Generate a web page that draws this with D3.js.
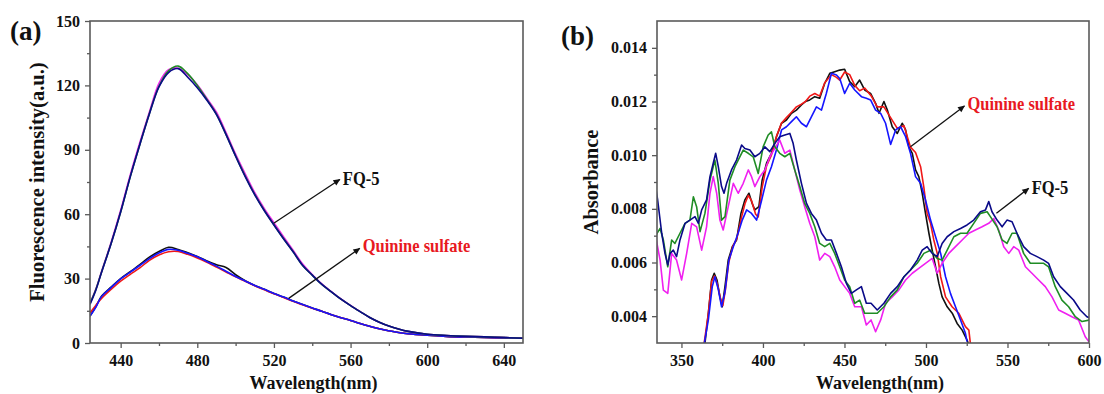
<!DOCTYPE html>
<html><head><meta charset="utf-8">
<script src="https://cdn.jsdelivr.net/npm/d3@7"></script>
<style>
body{margin:0;background:#fff;}
svg{display:block;}
text{font-family:"Liberation Serif","Times New Roman",serif;font-weight:bold;}
</style></head><body>
<svg id="chart" width="1104" height="394"></svg>
<script>
// ---------- Panel (a): fluorescence emission ----------
const aWavelength = [424,427,430,435,440,445,450,455,460,465,470,475,480,485,490,495,500,505,510,515,520,525,530,535,540,545,550,555,560,565,570,575,580,585,590,600,610,620,635,650];
const aFQ5Green   = [18.5,24.8,33,46.3,61,77.4,92.4,106.9,119.6,126.8,129,125.5,120,113.5,106.6,97.2,87.2,77.8,69.2,61.8,55.1,48.7,42.6,36.1,31.6,27.3,23.8,20.4,17.4,14.6,11.9,9.7,7.9,6.5,5.4,4.1,3.5,3.1,2.7,2.2];
const aFQ5Magenta = [18.5,25,33.2,46.8,61.8,78.3,93.4,107.6,121,127.3,128,125,120.3,114,107.5,98,88,78.8,70,62.6,56,49.5,43.2,36.8,31.9,27.5,23.9,20.5,17.5,14.6,11.9,9.7,7.9,6.5,5.4,4.1,3.5,3.1,2.7,2.2];
const aFQ5Navy    = [18,24.5,32.8,46.2,61,77.4,92.4,106.7,119.3,126,127.8,123.8,118.9,113.1,106.4,97.1,87,77.5,69,61.6,55,48.6,42.5,36.1,31.6,27.3,23.8,20.4,17.4,14.6,11.9,9.7,7.9,6.5,5.4,4.1,3.5,3.1,2.7,2.2];
const aQSBlack    = [12.5,16.8,21.8,26,30,33.2,36.5,40,42.6,44.6,43.6,42,40.3,38.2,36.4,35.2,31.8,29,26.8,25,23.1,21.4,19.6,17.9,16.3,14.8,13.2,11.8,10.5,9.1,7.8,6.6,5.7,4.9,4.3,3.6,3.1,2.8,2.5,2.2];
const aQSRed      = [14,17.5,20.8,25,28.8,32,35,38.5,41,42.5,42.6,41.3,39.6,37.6,35.4,33.1,30.8,28.8,26.7,24.8,22.9,21.2,19.4,17.8,16.2,14.8,13.2,11.8,10.5,9.1,7.8,6.6,5.7,4.9,4.3,3.6,3.1,2.8,2.5,2.2];
const aQSBlue     = [12.5,16.6,21.6,25.8,29.9,33,36.1,39.3,41.9,43.6,43.2,41.8,40.2,38,35.8,33.4,31,28.9,26.8,25,23.1,21.4,19.6,17.9,16.3,14.8,13.2,11.8,10.5,9.1,7.8,6.6,5.7,4.9,4.3,3.6,3.1,2.8,2.5,2.2];
const aXTicks = [440,480,520,560,600,640];
const aXMinor = [460,500,540,580,620];
const aYTicks = [0,30,60,90,120,150];
const aYMinor = [15,45,75,105,135];

// ---------- Panel (b): absorbance, [wavelength, absorbance] ----------
const bFQ5Green = [[333.8,0.00696],[336.9,0.00727],[338.9,0.00684],[341.6,0.00584],[344,0.00684],[346,0.00671],[349.1,0.00709],[352.2,0.00746],[355.2,0.00758],[357.3,0.00845],[359.3,0.00808],[361.4,0.00715],[364.4,0.00783],[367.5,0.00907],[370.5,0.00982],[372.6,0.00895],[374.6,0.00758],[376.7,0.00771],[379.7,0.00907],[382.8,0.00957],[385.8,0.00994],[387.9,0.01019],[391,0.01007],[394,0.00994],[397.1,0.00932],[400.1,0.01031],[403.2,0.01075],[405.2,0.01087],[407.3,0.01031],[410.3,0.01007],[413.4,0.00994],[416.5,0.01007],[419.5,0.00945],[422.6,0.00883],[425.6,0.0082],[428.7,0.00783],[431.8,0.00733],[434.8,0.00671],[437.9,0.00659],[441,0.00671],[444,0.00634],[447.1,0.00584],[450.1,0.00535],[453.2,0.0051],[456.3,0.00448],[459.3,0.0046],[462.4,0.00411],[465.5,0.00411],[470.1,0.00411],[474.2,0.00435],[478.3,0.00472],[482.4,0.00498],[486.5,0.00547],[490.5,0.00572],[494.6,0.00597],[498.7,0.00634],[502.8,0.00646],[506.9,0.00615],[509.9,0.00609],[513,0.00646],[517.1,0.00696],[521.2,0.00709],[525.2,0.00709],[529.3,0.00746],[533.4,0.00783],[537.5,0.00789],[539.5,0.00771],[543.6,0.00733],[546.7,0.00684],[549.7,0.00671],[552.8,0.00709],[555.8,0.00709],[559.9,0.00634],[564,0.00597],[568.1,0.00597],[572.2,0.00597],[575.2,0.00584],[579.3,0.0051],[583.4,0.0046],[587.5,0.00435],[591.6,0.00398],[595.7,0.0038],[600.8,0.00386]];
const bFQ5Magenta = [[333.8,0.00709],[336.9,0.00609],[338.9,0.00497],[341.6,0.00485],[344,0.00634],[347,0.00609],[350.1,0.00535],[353.2,0.00634],[356.3,0.00746],[359.3,0.00733],[362.4,0.00646],[365.4,0.00733],[367.5,0.00858],[369.5,0.0092],[371.6,0.00858],[373.6,0.00758],[375.6,0.00721],[378.7,0.00808],[381.8,0.00895],[384.8,0.00858],[387.9,0.00895],[391,0.00945],[393,0.0092],[395,0.00883],[398.1,0.0092],[401.2,0.00945],[404.2,0.00994],[407.3,0.01025],[410.3,0.01056],[413.4,0.01007],[416.5,0.01019],[419.5,0.00945],[422.6,0.0087],[425.6,0.00808],[428.7,0.00746],[431.8,0.00696],[434.8,0.00609],[437.9,0.00634],[441,0.00622],[444,0.00584],[447.1,0.00535],[450.1,0.0051],[453.2,0.00485],[456.3,0.00435],[460.4,0.00435],[463.4,0.00367],[466.3,0.00386],[469.1,0.00342],[472.2,0.00386],[475.2,0.00448],[479.3,0.00472],[483.4,0.00498],[487.5,0.00535],[491.6,0.0056],[495.6,0.00578],[499.7,0.00597],[503.8,0.00615],[506.9,0.0056],[509.9,0.00597],[514,0.00634],[518.1,0.00659],[522.2,0.00684],[526.3,0.00709],[530.3,0.00721],[534.4,0.00733],[538.5,0.00746],[541.6,0.00764],[544.6,0.00721],[547.7,0.00659],[550.8,0.00634],[553.8,0.00659],[556.9,0.00646],[561,0.00584],[565,0.0056],[569.1,0.00535],[573.2,0.0051],[577.3,0.00472],[581.4,0.00423],[585.4,0.00411],[589.5,0.00398],[593.6,0.00386],[597.7,0.00323],[600.8,0.00298]];
const bFQ5Navy = [[333.8,0.00895],[335.4,0.00833],[337.9,0.00709],[339.9,0.00634],[341.6,0.00591],[343,0.00634],[345,0.00646],[347,0.00622],[349.1,0.00684],[352.2,0.00746],[355.2,0.00758],[358.3,0.00771],[360.4,0.00746],[362.4,0.00796],[365.4,0.00833],[367.5,0.0092],[369.5,0.0097],[371,0.01007],[372.6,0.00957],[374.6,0.00883],[376.1,0.00858],[377.7,0.00895],[380.7,0.00945],[383.8,0.00982],[386.9,0.01038],[388.9,0.01025],[392,0.01019],[395,0.00994],[398.1,0.01007],[401.2,0.01031],[404.2,0.01013],[407.3,0.01044],[410.3,0.01069],[413.4,0.01075],[416.5,0.01081],[418.5,0.01044],[420.5,0.00982],[423.6,0.00895],[426.7,0.0082],[429.7,0.00783],[432.8,0.00758],[435.9,0.00709],[438.9,0.00684],[442,0.00684],[445.1,0.00634],[448.1,0.00584],[451.2,0.00522],[454.2,0.00485],[457.3,0.00498],[460.4,0.0051],[463.4,0.00448],[466.3,0.00448],[470.1,0.00423],[474.2,0.00448],[478.3,0.00485],[482.4,0.0051],[486.5,0.00547],[490.5,0.00572],[494.6,0.00609],[497.7,0.00646],[500.7,0.00659],[503.8,0.00634],[506.9,0.00622],[509.9,0.00671],[513,0.00696],[517.1,0.00715],[521.2,0.00727],[525.2,0.0074],[529.3,0.00758],[533.4,0.00789],[536.5,0.00796],[538.5,0.00827],[540.5,0.00789],[543.6,0.00758],[546.7,0.00733],[549.7,0.00758],[552.8,0.00752],[555.8,0.00709],[559.9,0.00659],[564,0.00634],[568.1,0.00622],[572.2,0.00609],[575.2,0.00597],[578.3,0.00547],[582.4,0.0051],[586.5,0.00485],[590.5,0.0046],[594.6,0.00423],[598.7,0.00398],[600.8,0.00392]];
const bQSBlack = [[364.4,0.00298],[366.5,0.00411],[368.5,0.00535],[370.1,0.0056],[371.8,0.00535],[373.6,0.00472],[375,0.00435],[376.7,0.0051],[378.7,0.00609],[381.2,0.00659],[383.8,0.00684],[386.5,0.00783],[388.9,0.00833],[391.4,0.00858],[393.4,0.0082],[395,0.00796],[397.5,0.00808],[399.5,0.00907],[402.2,0.0097],[405.2,0.01007],[408.3,0.01069],[411.4,0.01119],[414.4,0.01131],[417.5,0.01156],[420.5,0.01168],[423.6,0.01187],[426.1,0.012],[428.7,0.01206],[431.8,0.01218],[434.8,0.01212],[437.9,0.01268],[441,0.01305],[444,0.01311],[447.1,0.01317],[450.1,0.0132],[453.2,0.01274],[456.3,0.01255],[459.3,0.0128],[462.4,0.01243],[466,0.0123],[469.1,0.01193],[471.2,0.01156],[474.2,0.012],[476.3,0.01168],[479.3,0.01106],[482.4,0.01081],[485.4,0.01119],[487.5,0.01094],[489.5,0.01031],[491.6,0.01007],[493.6,0.00945],[495.6,0.0092],[497.7,0.00858],[499.7,0.00783],[501.8,0.00709],[503.8,0.00646],[505.9,0.00584],[507.9,0.00522],[509.9,0.00472],[513,0.00435],[516.1,0.00411],[519.1,0.00373],[522.2,0.00348],[525.2,0.00311],[526.3,0.00292]];
const bQSRed = [[363.9,0.00298],[366.5,0.0041],[368.5,0.0053],[370.3,0.0055],[372,0.0052],[373.8,0.0047],[375.4,0.0044],[377,0.005],[379,0.006],[381.5,0.0066],[384,0.0069],[386.9,0.0077],[389,0.0082],[391,0.0085],[393,0.0083],[395.5,0.0078],[397.1,0.0077],[399.5,0.0088],[402.2,0.0096],[405.2,0.01],[408.3,0.0107],[411.4,0.0112],[414.4,0.0114],[417.5,0.0116],[420.5,0.0118],[423.6,0.0119],[426.1,0.012],[428.7,0.0122],[431.8,0.0123],[434.8,0.0122],[437.9,0.0127],[442,0.013],[445.1,0.0129],[447.1,0.0128],[450.1,0.0131],[453.2,0.013],[456.3,0.0126],[459.3,0.0124],[462.4,0.0125],[466.5,0.0122],[470.1,0.0118],[474.2,0.0118],[478.3,0.0114],[482.4,0.011],[486.5,0.0111],[490.5,0.0103],[493.6,0.0101],[496.7,0.00957],[498.7,0.0088],[500.7,0.00783],[502.8,0.00746],[504.8,0.00684],[506.9,0.00634],[509,0.00547],[512,0.00472],[516,0.00435],[520.1,0.00411],[524.2,0.00361],[526.3,0.00348],[527.3,0.00295]];
const bQSBlue = [[364,0.00298],[366.5,0.00386],[368.9,0.0051],[370.5,0.00547],[372.6,0.005],[374.6,0.00435],[376.7,0.0049],[379.1,0.00609],[381.8,0.00659],[384.8,0.0071],[387.3,0.00758],[390,0.00796],[393,0.00783],[396.1,0.00758],[399.1,0.0083],[402.2,0.00908],[405.2,0.00957],[408.3,0.0102],[411.4,0.01094],[414.4,0.01106],[417.5,0.01125],[420.5,0.01143],[423.6,0.01119],[426.7,0.01106],[429.7,0.01143],[432.8,0.0118],[435.9,0.01168],[438.9,0.01231],[442,0.01305],[445.1,0.01299],[447.1,0.01286],[450.1,0.0123],[453.2,0.01268],[456.3,0.01243],[460.4,0.01218],[463.4,0.01212],[466,0.01206],[469.1,0.01168],[472.2,0.01156],[475.2,0.01119],[478.3,0.0104],[481.4,0.01094],[484.4,0.01106],[487.5,0.01069],[490.5,0.01007],[493.6,0.0092],[496.7,0.00895],[499.7,0.00833],[502.8,0.00758],[505.9,0.00696],[509,0.00634],[512,0.00547],[515,0.00485],[518.1,0.00435],[521.2,0.00386],[524.2,0.00336],[525.2,0.00305]];
const bXTicks = [350,400,450,500,550,600];
const bXMinor = [375,425,475,525,575];
const bYTicks = [0.004,0.006,0.008,0.010,0.012,0.014];
const bYMinor = [0.005,0.007,0.009,0.011,0.013];

// annotations: [fromX, fromY, toX, toY, label] in data units
const aNotes = [[519.9,55.8,554.4,76.2,"FQ-5"],[527.7,20.8,564.8,44.1,"Quinine sulfate"]];
const bNotes = [[490.5,0.010315,523.6,0.011832,"Quinine sulfate"],[543.2,0.007833,563.0,0.008765,"FQ-5"]];

const COL = {green:"#1f8c24", magenta:"#f020f0", navy:"#0a0a88", black:"#111111", red:"#f01818", blue:"#1515ff"};
const AXC = "#5a5a5a";
const svg = d3.select("#chart");

svg.append("defs").append("marker").attr("id","arrow")
  .attr("viewBox","0 0 10 10").attr("refX",9).attr("refY",5)
  .attr("markerWidth",9).attr("markerHeight",7).attr("markerUnits","userSpaceOnUse")
  .attr("orient","auto")
  .append("path").attr("d","M0,0.5L10,5L0,9.5Z").attr("fill","#111");

function zip(xs, ys){ return xs.map((v,i)=>[v, ys[i]]); }

function panel(cfg){
  const top = 21, bottom = 343;
  const x = d3.scaleLinear().domain(cfg.xDomain).range([cfg.left, cfg.right]);
  const y = d3.scaleLinear().domain(cfg.yDomain).range([bottom, top]);
  const g = svg.append("g");
  const clipId = cfg.id + "-clip";
  svg.select("defs").append("clipPath").attr("id", clipId)
    .append("rect").attr("x", cfg.left).attr("y", top)
    .attr("width", cfg.right - cfg.left).attr("height", bottom - top);

  const line = d3.line().x(d=>x(d[0])).y(d=>y(d[1])).curve(cfg.curve);
  const lg = g.append("g").attr("clip-path", `url(#${clipId})`);
  cfg.series.forEach(s=>{
    lg.append("path").attr("d", line(s.data)).attr("fill","none")
      .attr("stroke", s.color).attr("stroke-width", 1.6).attr("stroke-linejoin","round");
  });

  function style(sel){
    sel.select(".domain").remove();
    sel.selectAll(".tick line").attr("stroke", AXC).attr("stroke-width", 1.3);
    sel.selectAll(".tick text").attr("fill","#111").style("font-size","16px")
      .style("font-family",'"Liberation Serif","Times New Roman",serif').style("font-weight","bold");
  }
  g.append("g").attr("transform",`translate(0,${bottom})`)
    .call(d3.axisBottom(x).tickValues(cfg.xMinor).tickSize(3).tickFormat("")).call(style);
  g.append("g").attr("transform",`translate(0,${bottom})`)
    .call(d3.axisBottom(x).tickValues(cfg.xTicks).tickSize(5).tickPadding(7)).call(style);
  g.append("g").attr("transform",`translate(${cfg.left},0)`)
    .call(d3.axisLeft(y).tickValues(cfg.yMinor).tickSize(3).tickFormat("")).call(style);
  g.append("g").attr("transform",`translate(${cfg.left},0)`)
    .call(d3.axisLeft(y).tickValues(cfg.yTicks).tickSize(5).tickPadding(5).tickFormat(cfg.yFormat)).call(style);

  g.append("rect").attr("x", cfg.left).attr("y", top)
    .attr("width", cfg.right - cfg.left).attr("height", bottom - top)
    .attr("fill","none").attr("stroke", AXC).attr("stroke-width", 1.6);

  // axis titles
  g.append("text").attr("x", (cfg.left+cfg.right)/2 + 7).attr("y", 389)
    .attr("text-anchor","middle").style("font-size","18px").attr("fill","#111").text("Wavelength(nm)");
  g.append("text").attr("transform",`translate(${cfg.yTitleX},${(top+bottom)/2}) rotate(-90)`)
    .attr("text-anchor","middle").style("font-size","20.5px").attr("fill","#111").text(cfg.yTitle);
  // panel letter
  g.append("text").attr("x", cfg.letterX).attr("y", cfg.letterY)
    .style("font-size","27px").attr("fill","#111").text(cfg.letter);

  // annotations
  cfg.notes.forEach(n=>{
    const x1 = x(n[0]), y1 = y(n[1]), x2 = x(n[2]), y2 = y(n[3]);
    g.append("line").attr("x1",x1).attr("y1",y1).attr("x2",x2).attr("y2",y2)
      .attr("stroke","#111").attr("stroke-width",1.3).attr("marker-end","url(#arrow)");
    const isRed = n[4] !== "FQ-5";
    g.append("text").attr("transform",`translate(${x2+3},${y2+ (isRed?4:6)}) scale(1,1.15)`)
      .style("font-size","16.5px").attr("fill", isRed ? "#e8191f" : "#111").text(n[4]);
  });
}

panel({
  id:"a", left:90, right:523, xDomain:[424,650], yDomain:[0,150],
  xTicks:aXTicks, xMinor:aXMinor, yTicks:aYTicks, yMinor:aYMinor, yFormat:d3.format("d"),
  curve:d3.curveCatmullRom.alpha(0.5),
  series:[
    {data:zip(aWavelength,aQSBlack), color:COL.black},
    {data:zip(aWavelength,aQSRed), color:COL.red},
    {data:zip(aWavelength,aQSBlue), color:COL.blue},
    {data:zip(aWavelength,aFQ5Magenta), color:COL.magenta},
    {data:zip(aWavelength,aFQ5Green), color:COL.green},
    {data:zip(aWavelength,aFQ5Navy), color:COL.navy}
  ],
  yTitle:"Fluorescence intensity(a.u.)", yTitleX:44, letter:"(a)", letterX:10, letterY:40, notes:aNotes
});

panel({
  id:"b", left:657, right:1089, xDomain:[335,600], yDomain:[0.003,0.015],
  xTicks:bXTicks, xMinor:bXMinor, yTicks:bYTicks, yMinor:bYMinor, yFormat:d3.format(".3f"),
  curve:d3.curveLinear,
  series:[
    {data:bQSBlack, color:COL.black},
    {data:bQSRed, color:COL.red},
    {data:bQSBlue, color:COL.blue},
    {data:bFQ5Magenta, color:COL.magenta},
    {data:bFQ5Green, color:COL.green},
    {data:bFQ5Navy, color:COL.navy}
  ],
  yTitle:"Absorbance", yTitleX:598, letter:"(b)", letterX:561, letterY:45, notes:bNotes
});
</script></body></html>
